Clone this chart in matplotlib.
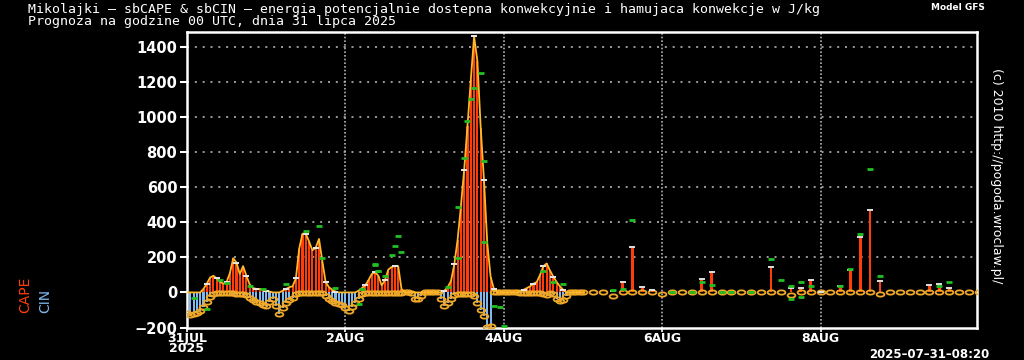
import numpy as np
import matplotlib
matplotlib.use("Agg")
import matplotlib.pyplot as plt
from matplotlib.path import Path

# ---------------- data ----------------
# hourly section (hours 0..120 from 31 JUL 00 UTC)
cape_hourly = [0, 0, 0, 0, 0, 20, 50, 85, 95, 80,
               60, 50, 60, 110, 195, 170, 105, 150, 95, 45,
               25, 20, 20, 15, 10, 5, 0, 0, 0, 10,
               20, 30, 35, 80, 250, 335, 335, 290, 240, 255,
               305, 180, 60, 30, 15, 5, 0, 0, 0, 0,
               0, 0, 10, 25, 40, 70, 105, 115, 95, 40,
               70, 130, 145, 150, 150, 20, 0, 0, 0, 0,
               0, 0, 0, 0, 0, 0, 0, 0, 10, 30,
               65, 160, 300, 490, 700, 950, 1210, 1460, 1320, 940,
               640, 280, 90, 20, 0, 0, 0, 0, 0, 0,
               0, 10, 15, 25, 35, 50, 60, 100, 150, 165,
               125, 90, 60, 35, 15, 0, 0, 0, 0, 0, 0]
cin_hourly = [-120, -130, -125, -120, -105, -85, -55, -25, -10, -5,
              -5, -5, -5, -5, -5, -8, -10, -10, -15, -30,
              -45, -55, -60, -70, -80, -55, -40, -80, -125, -90,
              -60, -45, -30, -10, -5, -5, -5, -5, -5, -5,
              -5, -5, -20, -35, -50, -60, -65, -70, -90, -105,
              -85, -60, -35, -10, -3, -3, -3, -3, -3, -3,
              -3, -3, -3, -3, -3, -3, 0, 0, -5, -35,
              -35, -20, 0, 0, 0, 0, 0, -40, -75, -60,
              -40, -15, -10, -10, -10, -10, -10, -20, -60, -100,
              -135, -195, -190, 0, 0, 0, 0, 0, 0, 0,
              0, -3, -3, -3, -3, -3, -3, -3, -10, -15,
              -5, -10, -35, -50, -45, -20, 0, 0, 0, 0, 0]

# 3-hourly section (hours 123..237)
cape_3h = [0, 0, 10, 60, 257, 32, 13, 0, 0, 0,
           0, 74, 118, 0, 0, 0, 0, 0, 147, 0,
           23, 27, 72, 5, 0, 34, 126, 314, 472, 63,
           0, 0, 0, 0, 44, 48, 25, 0, 0, 0]
cin_3h = [0, 0, -20, 0, 0, 0, 0, -8, 0, 0,
          0, 0, 0, 0, 0, 0, 0, 0, 0, 0,
          -15, 0, 0, 0, 0, 0, 0, 0, 0, -8,
          0, 0, 0, 0, 0, 0, 0, 0, 0, 0]

green_hours = [2, 6, 10, 12, 19, 23, 30, 36, 40, 41, 45, 52, 53, 57, 58,
               57, 58, 60, 62, 63, 64, 65, 79, 82, 82, 84, 85, 86, 87, 89, 90, 90,
               93, 95, 96, 108, 111, 114,
               129, 132, 135, 147, 153, 156, 159, 162, 165, 171, 177, 180,
               183, 183, 186, 186, 189, 198, 201, 204, 207, 210, 228, 231]
green_vals = [-32, -95, 72, 55, 38, 20, 50, 350, 377, 196, 25, -65, 21, 162, 124,
              158, 120, 91, 215, 263, 324, 229, 30, 196, 488, 768, 975, 1104, 1167, 1254, 752, 286,
              -76, -84, -194, 120, 60, 50,
              15, 20, 413, 5, 5, 60, 40, 5, 5, 5, 189, 70,
              36, -40, 61, -25, 36, 38, 135, 335, 701, 91, 35, 57]

tick_hours = [0, 48, 96, 144, 192]
tick_labels = ["31JUL\n2025", "2AUG", "4AUG", "6AUG", "8AUG"]
y_ticks = [-200, 0, 200, 400, 600, 800, 1000, 1200, 1400]

# ---------------- plotting ----------------
W, H = 1024, 360
fig = plt.figure(figsize=(W / 100, H / 100), dpi=100, facecolor="black")
ax = fig.add_axes([187 / W, 1 - 327.5 / H, (977 - 187) / W, (327.5 - 32) / H])
ax.set_facecolor("black")

h1 = np.arange(len(cape_hourly))
h3 = np.arange(123, 123 + 3 * len(cape_3h), 3)
cape1 = np.array(cape_hourly, float)
cin1 = np.array(cin_hourly, float)
cape3 = np.array(cape_3h, float)
cin3 = np.array(cin_3h, float)

red = "#ff3c0a"
blue = "#80b8f0"
ring = "#f0a828"
yel = "#ffb828"

# grid
for yv in y_ticks[2:]:
    ax.axhline(yv, color="#b4b4b4", lw=1.2, ls=(0, (1.2, 3.5)), zorder=1)
for xv in tick_hours[1:]:
    ax.axvline(xv, color="#b4b4b4", lw=1.2, ls=(0, (1, 1.2)), zorder=1)

# bars
ax.bar(h1, cin1, width=0.65, color=blue, zorder=2, linewidth=0)
ax.bar(h1, cape1, width=0.65, color=red, zorder=3, linewidth=0)
ax.bar(h3, cape3, width=0.8, color=red, zorder=3, linewidth=0)

# white caps on top of CAPE bars
m1 = (cape1 > 0) & (h1 % 3 == 0)
ax.scatter(h1[m1], cape1[m1], marker="_", s=14, color="#e8e8e8", linewidths=1.4, zorder=6)
m3 = cape3 > 0
ax.scatter(h3[m3], cape3[m3], marker="_", s=14, color="#e0e0e0", linewidths=1.4, zorder=6)

# CIN ring markers (ellipses)
circ = Path.unit_circle()
ell = Path(circ.vertices * np.array([1.0, 0.55]), circ.codes)
ax.plot(h1, cin1, ls="none", marker=ell, ms=5.6, mfc="none", mec=ring, mew=1.3, zorder=4)
ax.plot(h3, cin3, ls="none", marker=ell, ms=5.6, mfc="none", mec=ring, mew=1.3, zorder=4)

# CAPE line for hourly section
ax.plot(h1, cape1, color=yel, lw=1.3, zorder=5)

# green markers
ax.scatter(green_hours, green_vals, marker="_", s=16, color="#22c022", linewidths=2, zorder=7)

ax.set_xlim(0, 239.4)
ax.set_ylim(-200, 1485)
ax.set_yticks(y_ticks)
ax.set_yticklabels([("\u2212200" if v < 0 else str(v)) for v in y_ticks],
                   fontsize=10.5, fontweight="bold", color="white")
ax.set_xticks(tick_hours)
ax.set_xticklabels(tick_labels, fontsize=9, fontweight="bold", color="white",
                   linespacing=0.75)
ax.tick_params(axis="y", colors="white", length=5, width=1.5, pad=2)
ax.tick_params(axis="x", colors="white", length=3, width=1.2, pad=0)
for sp in ax.spines.values():
    sp.set_color("white")
    sp.set_linewidth(1.8)

# texts
fig.text(28 / W, 1 - 3 / H,
         "Mikolajki \u2013 sbCAPE & sbCIN \u2013 energia potencjalnie dostepna konwekcyjnie i hamujaca konwekcje w J/kg\n"
         "Prognoza na godzine 00 UTC, dnia 31 lipca 2025",
         color="white", fontsize=9.5, family="DejaVu Sans Mono",
         va="top", ha="left", linespacing=0.88)
fig.text(958 / W, 1 - 7 / H, "Model GFS", color="white", fontsize=6.5,
         fontweight="bold", ha="center", va="center")
fig.text(997 / W, 1 - 176 / H, "(c) 2010 http://pogoda.wroclaw.pl/", color="white",
         fontsize=9, rotation=-90, ha="center", va="center")
fig.text(25 / W, 1 - 313 / H, "CAPE", color=red, fontsize=10, rotation=90,
         ha="center", va="bottom")
fig.text(45 / W, 1 - 313 / H, "CIN", color=blue, fontsize=10, rotation=90,
         ha="center", va="bottom")
fig.text(929 / W, 1 - 355 / H, "2025\u201307\u201331\u201308:20", color="white",
         fontsize=8.5, fontweight="bold", ha="center", va="center")

fig.savefig("out.png", dpi=100, facecolor="black")
